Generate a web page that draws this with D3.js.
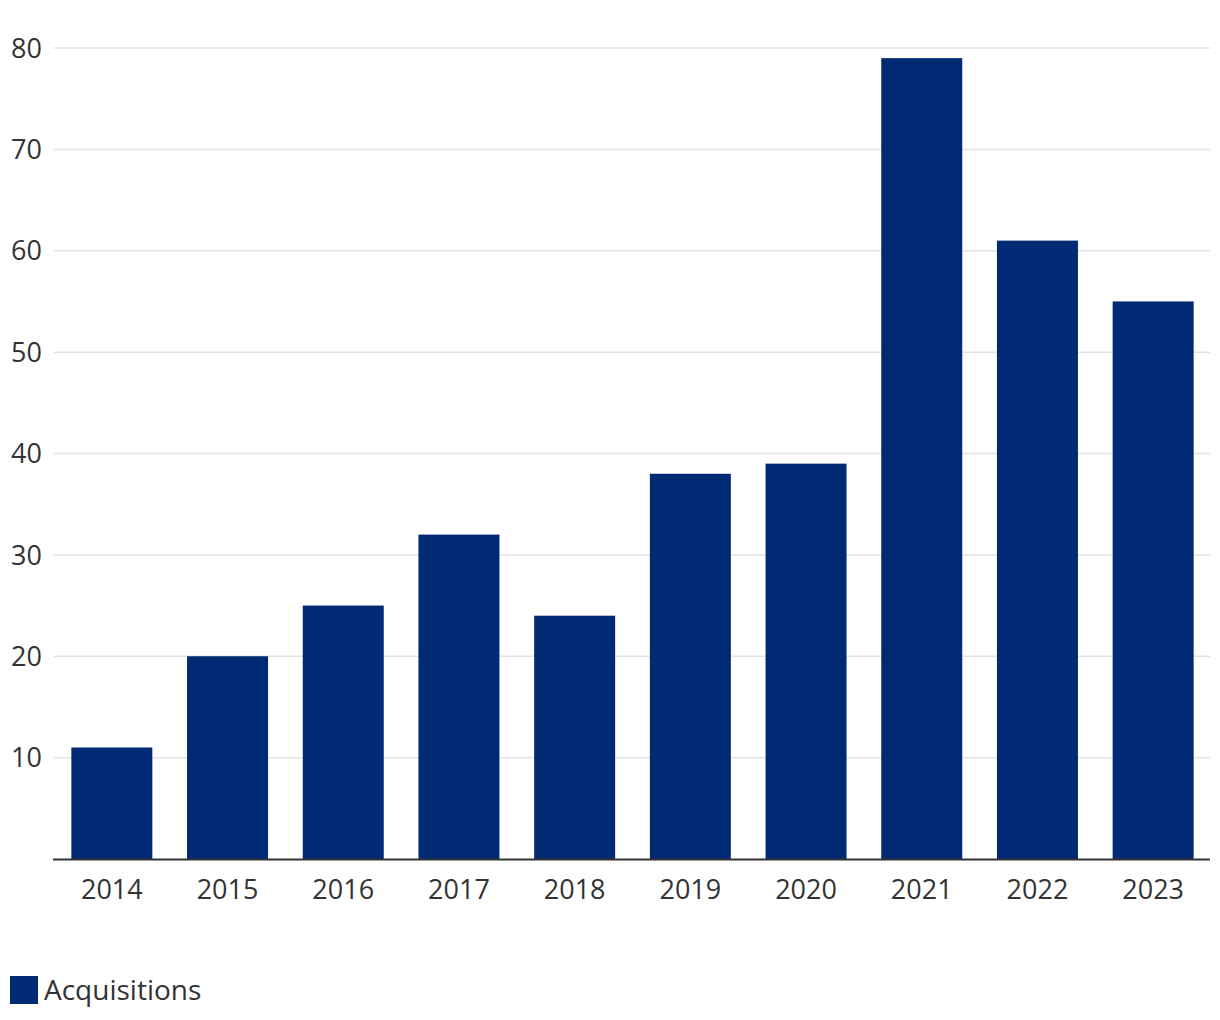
<!DOCTYPE html>
<html><head><meta charset="utf-8">
<script src="https://cdn.jsdelivr.net/npm/d3@7"></script>
<style>body{margin:0;background:#fff;}svg{display:block;font-family:"Open Sans",sans-serif;}</style>
</head><body><svg id="c" width="1220" height="1020"></svg>
<script>
const categories = ["2014","2015","2016","2017","2018","2019","2020","2021","2022","2023"];
const values = [11,20,25,32,24,38,39,79,61,55];
const yTicks = [10,20,30,40,50,60,70,80];
const seriesName = "Acquisitions";
const color = "#002a73";

(function(){
const svg = d3.select("#c");
const mLeft = 53, mRight = 1210, mTop = 48, mBottom = 859;
const x = d3.scaleBand().domain(categories).range([mLeft+1, mRight+1]).paddingInner(0.3).paddingOuter(0.15);
const y = d3.scaleLinear().domain([0, 80]).range([mBottom, mTop]);

svg.append("g").selectAll("line").data(yTicks).join("line")
  .attr("x1", mLeft+1).attr("x2", mRight).attr("y1", d=>y(d)).attr("y2", d=>y(d))
  .attr("stroke", "#e3e3e3").attr("stroke-width", 1.5);

svg.append("g").selectAll("text").data(yTicks).join("text")
  .attr("x", 42).attr("y", d=>y(d)).attr("dy", "0.36em").attr("text-anchor", "end")
  .attr("font-size", 27).attr("fill", "#333").text(d=>d);

svg.append("g").selectAll("rect").data(values).join("rect")
  .attr("x", (d,i)=>x(categories[i])).attr("width", x.bandwidth())
  .attr("y", d=>y(d)).attr("height", d=>y(0)-y(d)).attr("fill", color);

svg.append("line").attr("x1", mLeft).attr("x2", mRight).attr("y1", mBottom+0.5).attr("y2", mBottom+0.5)
  .attr("stroke", "#333").attr("stroke-width", 2);

svg.append("g").selectAll("text").data(categories).join("text")
  .attr("x", d=>x(d)+x.bandwidth()/2).attr("y", 899).attr("text-anchor", "middle")
  .attr("font-size", 27).attr("fill", "#333").text(d=>d);

svg.append("rect").attr("x", 10).attr("y", 976).attr("width", 28).attr("height", 28).attr("fill", color);
svg.append("text").attr("x", 44).attr("y", 1000).attr("font-size", 28).attr("fill", "#333").text(seriesName);
})();
</script></body></html>
